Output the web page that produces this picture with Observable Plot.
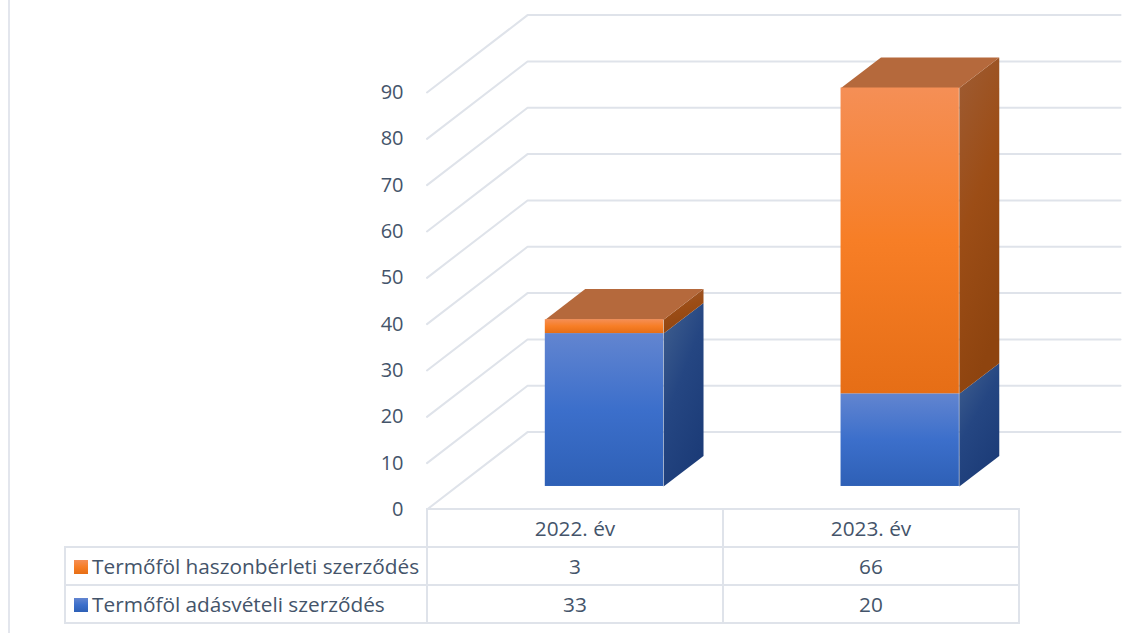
<!DOCTYPE html>
<html>
<head>
<meta charset="utf-8">
<script src="https://cdn.jsdelivr.net/npm/d3@7"></script>
<script src="https://cdn.jsdelivr.net/npm/@observablehq/plot@0.6"></script>
<style>
  html, body { margin:0; padding:0; background:#fff; width:1148px; height:633px; overflow:hidden; }
  body { position:relative; font-family:"Open Sans", sans-serif; color:#44546a; }
  #chart { position:absolute; left:0; top:0; }
  #edge { position:absolute; left:8px; top:0; width:2px; height:633px; background:#e3e6ed; }
  table { position:absolute; left:64px; top:508px; border-collapse:collapse; table-layout:fixed; width:954px; font-size:20.8px; }
  td { border:2px solid #dfe3ea; height:36px; padding:0; text-align:center; line-height:1; white-space:nowrap; }
  td.blank { border:none; border-bottom:2px solid #dfe3ea; }
  td.name { text-align:left; padding-left:8px; }
  .sw { display:inline-block; width:14px; height:14px; margin-right:4px; vertical-align:0px; }
</style>
</head>
<body>
<div id="edge"></div>
<div id="chart"></div>
<table id="tbl"></table>
<script>
const years = ["2022. év", "2023. év"];
const seriesNames = ["Termőföl haszonbérleti szerződés", "Termőföl adásvételi szerződés"];
const purchase = [33, 20];
const lease = [3, 66];
const yTicks = [0,10,20,30,40,50,60,70,80,90];

// 3-D projection, expressed in data units
const wallX = 0.34, wallY = 16.7;      // floor depth
const baseX = 0.4, barW = 0.4;         // bar front face inside its category
const baseY = 4.97;                    // lift of the bar base above the front floor edge
const barDX = 0.135, barDY = 6.6;      // bar depth
const wallEnd = 2.345;

const stacks = years.map((year, i) => ({
  x1: i + baseX, x2: i + baseX + barW,
  y0: baseY, y1: baseY + purchase[i], y2: baseY + purchase[i] + lease[i]
}));

const side = (key, lo, hi) => stacks.flatMap(s => [
  {k:key+s.x1, x:s.x2, y:s[lo]},
  {k:key+s.x1, x:s.x2+barDX, y:s[lo]+barDY},
  {k:key+s.x1, x:s.x2+barDX, y:s[hi]+barDY},
  {k:key+s.x1, x:s.x2, y:s[hi]}
]);
const top_ = stacks.flatMap(s => [
  {k:s.x1, x:s.x1, y:s.y2},
  {k:s.x1, x:s.x1+barDX, y:s.y2+barDY},
  {k:s.x1, x:s.x2+barDX, y:s.y2+barDY},
  {k:s.x1, x:s.x2, y:s.y2}
]);
const wall = yTicks.flatMap(t => [
  {t, x:0, y:t},
  {t, x:wallX, y:t+wallY},
  {t, x:wallEnd, y:t+wallY}
]);

const defs = () => {
  const ns = "http://www.w3.org/2000/svg";
  const d = document.createElementNS(ns, "defs");
  const grads = {
    blueF:[0,0,0,1,[[0,"#6285d0"],[.5,"#3c6fcb"],[1,"#2e60b6"]]],
    orangeF:[0,0,0,1,[[0,"#f58f56"],[.5,"#f77e26"],[1,"#e66e16"]]],
    blueS:[0,0,.55,1,[[0,"#41608f"],[.5,"#254682"],[1,"#1c3c78"]]],
    orangeS:[0,0,.3,1,[[0,"#9e5c34"],[.5,"#9c4d16"],[1,"#8e440f"]]]
  };
  for (const [id,[x1,y1,x2,y2,stops]] of Object.entries(grads)) {
    const g = document.createElementNS(ns,"linearGradient");
    g.setAttribute("id",id);
    g.setAttribute("x1",x1);g.setAttribute("y1",y1);g.setAttribute("x2",x2);g.setAttribute("y2",y2);
    for (const [o,c] of stops) {
      const s = document.createElementNS(ns,"stop");
      s.setAttribute("offset",o);s.setAttribute("stop-color",c);g.appendChild(s);
    }
    d.appendChild(g);
  }
  return d;
};

const plot = Plot.plot({
  width: 1148,
  height: 520,
  marginLeft: 427,
  marginRight: 130,
  marginTop: 92,
  marginBottom: 11,
  style: {background:"transparent", fontFamily:'"Open Sans", sans-serif', fontSize:"20px", color:"#44546a", overflow:"visible"},
  x: {domain:[0,2], range:[426.5,1018], axis:null},
  y: {domain:[0,90], range:[509,92]},
  marks: [
    defs,
    Plot.line(wall, {x:"x", y:"y", z:"t", stroke:"#dfe3ea", strokeWidth:2, curve:"linear"}),
    Plot.line(side("b","y0","y1"), {x:"x", y:"y", z:"k", fill:"url(#blueS)", stroke:"none"}),
    Plot.rect(stacks, {x1:"x1", x2:"x2", y1:"y0", y2:"y1", fill:"url(#blueF)", inset:0}),
    Plot.line(side("o","y1","y2"), {x:"x", y:"y", z:"k", fill:"url(#orangeS)", stroke:"none"}),
    Plot.line(top_, {x:"x", y:"y", z:"k", fill:"#b5693c", stroke:"none"}),
    Plot.rect(stacks, {x1:"x1", x2:"x2", y1:"y1", y2:"y2", fill:"url(#orangeF)", inset:0}),
    Plot.axisY({ticks:yTicks, tickSize:0, tickPadding:24, label:null, fontSize:20, fill:"#44546a"})
  ]
});
document.getElementById("chart").appendChild(plot);

const rows = [
  {name:seriesNames[0], vals:lease, sw:"linear-gradient(#f58f56,#f77e26 50%,#e66e16)"},
  {name:seriesNames[1], vals:purchase, sw:"linear-gradient(#6285d0,#3c6fcb 50%,#2e60b6)"}
];
let html = `<colgroup><col style="width:362px"><col style="width:296px"><col style="width:296px"></colgroup>`;
html += `<tr><td class="blank"></td>${years.map(y=>`<td>${y}</td>`).join("")}</tr>`;
for (const r of rows) {
  html += `<tr><td class="name"><span class="sw" style="background:${r.sw}"></span>${r.name}</td>${r.vals.map(v=>`<td>${v}</td>`).join("")}</tr>`;
}
document.getElementById("tbl").innerHTML = html;
</script>
</body>
</html>
